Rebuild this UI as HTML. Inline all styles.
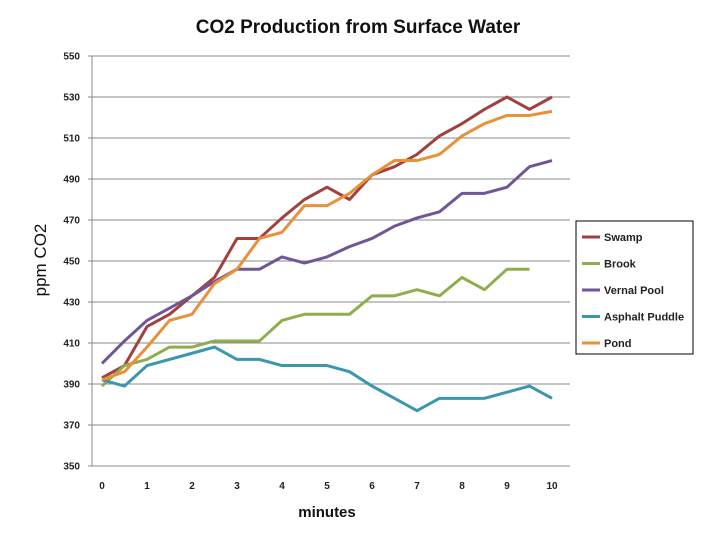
<!DOCTYPE html>
<html><head><meta charset="utf-8"><style>
body{margin:0;background:#fff;}
svg text{font-family:"Liberation Sans",sans-serif;}
</style></head><body>
<svg width="720" height="540" xmlns="http://www.w3.org/2000/svg">
<rect x="0" y="0" width="720" height="540" fill="#fff"/>
<text x="358" y="33" text-anchor="middle" font-size="19" font-weight="bold" fill="#111">CO2 Production from Surface Water</text>
<text transform="translate(46,260) rotate(-90)" text-anchor="middle" font-size="17" fill="#111">ppm CO2</text>
<text x="327" y="517" text-anchor="middle" font-size="15" font-weight="bold" fill="#111">minutes</text>
<g id="grid"></g><g id="series"></g>
<g id="legend">
<rect x="576" y="221" width="117" height="133" fill="#fff" stroke="#000" stroke-width="1"/>
</g>
</svg>
<script>
const xs=[0,0.5,1,1.5,2,2.5,3,3.5,4,4.5,5,5.5,6,6.5,7,7.5,8,8.5,9,9.5,10];
const swamp=[393,399,418,424,433,442,461,461,471,480,486,480,492,496,502,511,517,524,530,524,530];
const brook=[389,399,402,408,408,411,411,411,421,424,424,424,433,433,436,433,442,436,446,446];
const vernal=[400,411,421,427,433,440,446,446,452,449,452,457,461,467,471,474,483,483,486,496,499];
const asphalt=[392,389,399,402,405,408,402,402,399,399,399,396,389,383,377,383,383,383,386,389,383];
const pond=[392,396,408,421,424,439,446,461,464,477,477,483,492,499,499,502,511,517,521,521,523];
const yTicks=[350,370,390,410,430,450,470,490,510,530,550];
const xTicks=[0,1,2,3,4,5,6,7,8,9,10];
const names=["Swamp","Brook","Vernal Pool","Asphalt Puddle","Pond"];
const colors=["#a0413f","#8eae4e","#6f5696","#3a97ad","#e8903a"];
const X=v=>102+v*45, Y=v=>56+(550-v)*2.05;
const NS="http://www.w3.org/2000/svg";
const grid=document.getElementById('grid');
function mk(t,a,p){const e=document.createElementNS(NS,t);for(const k in a)e.setAttribute(k,a[k]);p.appendChild(e);return e;}
let ax=mk('line',{x1:92,x2:92,y1:56,y2:466,stroke:'#888'},grid);


yTicks.forEach(v=>{
 const l=mk('line',{x1:88,x2:570,y1:Y(v),y2:Y(v),stroke:'#888','stroke-width':1},grid);
 
 
 const t=mk('text',{x:80,y:Y(v)+3.5,'text-anchor':'end','font-size':10,'font-weight':'bold',fill:'#222'},grid);
 t.textContent=v;
 
 
});
xTicks.forEach(v=>{
 const t=mk('text',{x:X(v),y:489,'text-anchor':'middle','font-size':10,'font-weight':'bold',fill:'#222'},grid);
 t.textContent=v;
 
 
});
const ser=document.getElementById('series');
[swamp,brook,vernal,asphalt,pond].forEach((d,i)=>{
 const p=mk('polyline',{points:d.map((v,j)=>X(xs[j])+','+Y(v)).join(' '),fill:'none',stroke:colors[i],'stroke-width':3,'stroke-linejoin':'round'},ser);
 
 
});
const lg=document.getElementById('legend');
names.forEach((n,i)=>{
 const y=237+i*26.5;
 const l=mk('line',{x1:582,x2:600,y1:y,y2:y,stroke:colors[i],'stroke-width':3},lg);
 
 
 const t=mk('text',{x:604,y:y+4,'font-size':11,'font-weight':'bold',fill:'#222'},lg);
 t.textContent=n;
 
 
});
</script>
</body></html>
